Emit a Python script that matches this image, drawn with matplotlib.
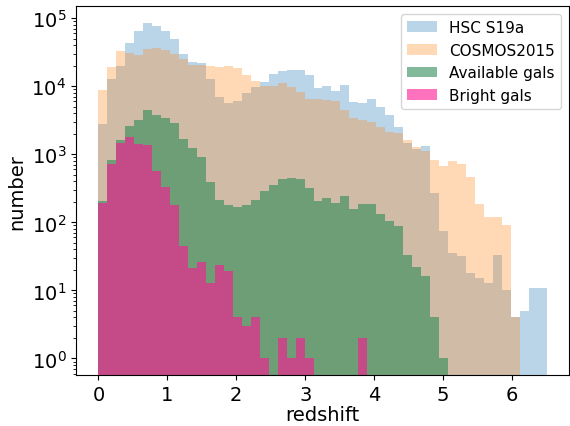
import numpy as np
import matplotlib
matplotlib.use("Agg")
import matplotlib.pyplot as plt

# bin edges: 50 bins from 0 to 6.5
z_min, z_max, n_bins = 0.0, 6.5, 50

# counts per bin
hsc = [2760, 13000, 20000, 43600, 65500, 85600, 76000, 65500, 50000, 29600,
       22500, 22100, 12600, 6900, 5640, 6000, 7900, 9700, 11700, 15200,
       16600, 17400, 17200, 14900, 9300, 10200, 8500, 10500, 5900, 5770,
       6500, 5000, 3740, 2490, 1450, 1200, 1310, 272, 74, 36,
       32, 18, 15, 13, 33, 10, 4, 5, 11, 11]
cosmos = [8900, 19400, 33000, 31000, 28600, 35900, 36700, 33900, 29600, 25400,
          20900, 20900, 20000, 19000, 19700, 18400, 14600, 12100, 10200, 10000,
          11000, 9800, 8300, 6600, 6400, 6300, 6000, 4560, 3380, 3170,
          3030, 2530, 2100, 2080, 1640, 1290, 1120, 815, 680, 785,
          730, 460, 186, 120, 120, 92, 4, 0, 0, 0]
available = [205, 830, 1640, 2620, 3240, 4500, 3800, 3470, 2900, 1700,
             1240, 900, 390, 215, 181, 166, 180, 215, 287, 356,
             434, 452, 434, 324, 207, 230, 195, 240, 155, 185,
             189, 134, 104, 88, 33, 22, 16, 4, 1, 0,
             0, 0, 0, 0, 0, 0, 0, 0, 0, 0]
bright = [192, 730, 1470, 1820, 1440, 1380, 570, 336, 177, 45,
          21, 26, 13, 24, 19, 4, 3, 4, 1, 0,
          2, 1, 2, 1, 0, 0, 0, 0, 0, 2,
          0, 0, 0, 0, 0, 0, 0, 0, 0, 0,
          0, 0, 0, 0, 0, 0, 0, 0, 0, 0]

edges = np.linspace(z_min, z_max, n_bins + 1)
centers = 0.5 * (edges[:-1] + edges[1:])

fig = plt.figure(figsize=(5.7, 4.27), dpi=100)
ax = fig.add_axes([0.1333, 0.1194, 0.8649, 0.8635])

ax.hist(centers, bins=edges, weights=hsc, alpha=0.3, color='tab:blue', label='HSC S19a', log=True)
ax.hist(centers, bins=edges, weights=cosmos, alpha=0.3, color='tab:orange', label='COSMOS2015', log=True)
ax.hist(centers, bins=edges, weights=available, alpha=0.6, color='seagreen', label='Available gals', log=True)
ax.hist(centers, bins=edges, weights=bright, alpha=0.6, color='deeppink', label='Bright gals', log=True)

ax.set_xlim(-0.325, 6.825)
ax.set_ylim(0.57, 1.5e5)
ax.set_xlabel('redshift', fontsize=14, labelpad=1)
ax.set_ylabel('number', fontsize=14)
ax.tick_params(labelsize=14)
ax.legend(loc='upper right', fontsize=11)

fig.savefig('out.png', dpi=100)
